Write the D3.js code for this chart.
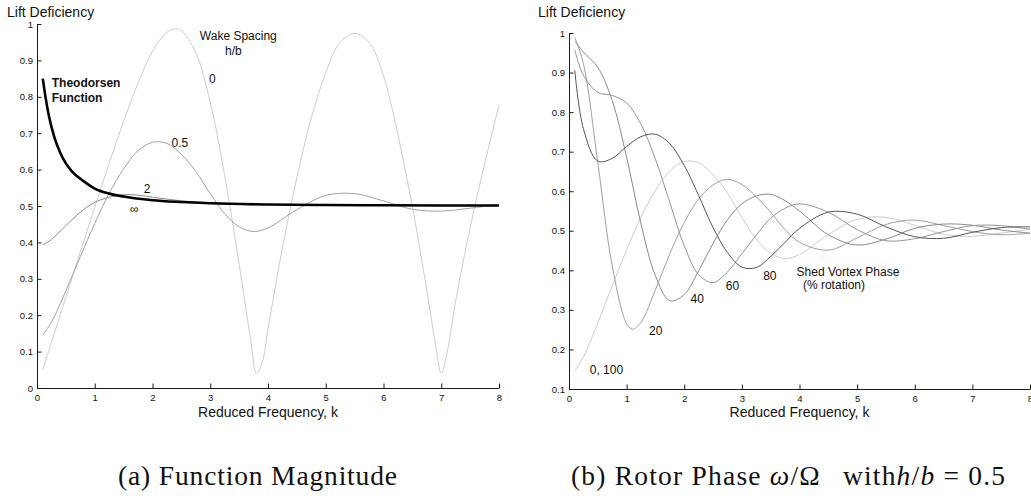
<!DOCTYPE html>
<html>
<head>
<meta charset="utf-8">
<script src="https://cdn.jsdelivr.net/npm/d3@7"></script>
<style>
  body { margin: 0; background: #fff; }
  svg { display: block; }
  .axis path, .axis line { stroke: #1a1a1a; stroke-width: 1; }
  .axis text { font-family: "Liberation Sans", Arial, sans-serif; font-size: 9.5px; fill: #111; }
  .lbl { font-family: "Liberation Sans", Arial, sans-serif; fill: #111; }
  .cap { font-family: "Liberation Serif", "Times New Roman", serif; font-size: 27.5px; fill: #111; white-space: pre; }
  .curve { fill: none; }
</style>
</head>
<body>
<div id="chart"></div>
<script>
// shared reduced-frequency grid for the smooth curves
var kGrid = [0.1, 0.25, 0.5, 0.75, 1, 1.25, 1.5, 1.75, 2, 2.25, 2.5, 2.75, 3, 3.25, 3.5, 3.75, 4, 4.5, 5, 5.5, 6, 6.5, 7, 7.5, 8];

// (a) wake spacing h/b
var wake0K = [0.1, 0.25, 0.5, 0.75, 1, 1.25, 1.5, 1.75, 2, 2.25, 2.4, 2.5, 2.75, 3, 3.25, 3.5, 3.7, 3.8, 3.9, 4, 4.25, 4.5, 4.75, 5, 5.25, 5.5, 5.75, 6, 6.25, 6.5, 6.75, 6.9, 7, 7.1, 7.25, 7.5, 7.75, 8];
var wake0 = [0.05, 0.125, 0.25, 0.374, 0.497, 0.617, 0.733, 0.838, 0.925, 0.977, 0.987, 0.982, 0.921, 0.785, 0.583, 0.34, 0.132, 0.04, 0.07, 0.163, 0.385, 0.578, 0.742, 0.866, 0.95, 0.974, 0.95, 0.858, 0.695, 0.498, 0.268, 0.12, 0.04, 0.097, 0.24, 0.44, 0.615, 0.778];
var wake05 = [0.146, 0.181, 0.267, 0.361, 0.452, 0.535, 0.602, 0.652, 0.675, 0.672, 0.642, 0.595, 0.534, 0.479, 0.443, 0.43, 0.44, 0.49, 0.529, 0.534, 0.514, 0.491, 0.486, 0.494, 0.504];
var wake2 = [0.393, 0.408, 0.446, 0.483, 0.51, 0.524, 0.531, 0.53, 0.524, 0.519, 0.514, 0.511, 0.509, 0.507, 0.506, 0.505, 0.504, 0.503, 0.5027, 0.5023, 0.502, 0.5018, 0.5016, 0.5014, 0.5012];
var theoK = [0.1, 0.15, 0.2, 0.3, 0.4, 0.5, 0.6, 0.8, 1, 1.25, 1.5, 2, 2.5, 3, 4, 5, 6, 7, 8];
var theodorsen = [0.85, 0.797, 0.752, 0.689, 0.647, 0.617, 0.596, 0.569, 0.548, 0.534, 0.526, 0.516, 0.511, 0.5075, 0.504, 0.5026, 0.502, 0.5015, 0.5012];

// (b) shed vortex phase, h/b = 0.5
var phase0 = [0.146, 0.181, 0.267, 0.361, 0.452, 0.535, 0.602, 0.652, 0.675, 0.672, 0.642, 0.595, 0.534, 0.479, 0.443, 0.43, 0.44, 0.49, 0.529, 0.534, 0.514, 0.491, 0.486, 0.494, 0.504];
var phase20K = [0.1, 0.25, 0.5, 0.75, 1, 1.1, 1.25, 1.5, 1.75, 2, 2.25, 2.5, 2.75, 3, 3.25, 3.5, 3.75, 4, 4.5, 5, 5.5, 6, 6.5, 7, 7.5, 8];
var phase20 = [0.989, 0.923, 0.672, 0.411, 0.265, 0.251, 0.269, 0.351, 0.442, 0.521, 0.58, 0.616, 0.63, 0.617, 0.586, 0.547, 0.503, 0.471, 0.451, 0.482, 0.516, 0.527, 0.513, 0.498, 0.49, 0.494];
var phase40 = [0.979, 0.952, 0.913, 0.829, 0.686, 0.517, 0.386, 0.323, 0.339, 0.399, 0.468, 0.528, 0.568, 0.588, 0.592, 0.576, 0.55, 0.49, 0.464, 0.479, 0.506, 0.517, 0.514, 0.502, 0.494];
var phase60 = [0.958, 0.893, 0.85, 0.842, 0.823, 0.769, 0.681, 0.571, 0.462, 0.389, 0.369, 0.396, 0.442, 0.489, 0.532, 0.557, 0.568, 0.547, 0.503, 0.475, 0.48, 0.498, 0.513, 0.513, 0.504];
var phase80 = [0.906, 0.758, 0.676, 0.683, 0.713, 0.738, 0.744, 0.72, 0.665, 0.589, 0.508, 0.445, 0.408, 0.407, 0.435, 0.471, 0.506, 0.547, 0.542, 0.51, 0.485, 0.481, 0.496, 0.508, 0.51];

// ticks
var xTicks = [0, 1, 2, 3, 4, 5, 6, 7, 8];
var xTickLabels = ["0", "1", "2", "3", "4", "5", "6", "7", "8"];
var yTicksA = [0, 0.1, 0.2, 0.3, 0.4, 0.5, 0.6, 0.7, 0.8, 0.9, 1];
var yTickLabelsA = ["0", "0.1", "0.2", "0.3", "0.4", "0.5", "0.6", "0.7", "0.8", "0.9", "1"];
var yTicksB = [0.1, 0.2, 0.3, 0.4, 0.5, 0.6, 0.7, 0.8, 0.9, 1];
var yTickLabelsB = ["0.1", "0.2", "0.3", "0.4", "0.5", "0.6", "0.7", "0.8", "0.9", "1"];

var svg = d3.select("#chart")
  .append("svg")
  .attr("width", 1031)
  .attr("height", 500);

function drawAxes(x, y, yTicks, yLabels, x0, y0) {
  svg.append("g")
    .attr("class", "axis")
    .attr("transform", `translate(0, ${y0})`)
    .call(d3.axisBottom(x).tickValues(xTicks)
      .tickFormat((d, i) => xTickLabels[i])
      .tickSizeInner(-4.5).tickSizeOuter(0).tickPadding(6));

  svg.append("g")
    .attr("class", "axis")
    .attr("transform", `translate(${x0}, 0)`)
    .call(d3.axisLeft(y).tickValues(yTicks)
      .tickFormat((d, i) => yLabels[i])
      .tickSizeInner(-4.5).tickSizeOuter(0).tickPadding(4));
}

function curve(x, y, ks, vals, color, width, interp) {
  var line = d3.line()
    .x(d => x(d[0]))
    .y(d => y(d[1]))
    .curve(interp || d3.curveCatmullRom.alpha(0.5));
  svg.append("path")
    .datum(d3.zip(ks, vals))
    .attr("class", "curve")
    .attr("stroke", color)
    .attr("stroke-width", width)
    .attr("d", line);
}

function label(xp, yp, txt, size, weight, anchor) {
  svg.append("text")
    .attr("class", "lbl")
    .attr("x", xp)
    .attr("y", yp)
    .attr("font-size", size)
    .attr("font-weight", weight || "normal")
    .attr("text-anchor", anchor || "start")
    .text(txt);
}

// ==============================
// (a) Function Magnitude
// ==============================
var xA = d3.scaleLinear().domain([0, 8]).range([37, 499]);
var yA = d3.scaleLinear().domain([0, 1]).range([388, 24]);

drawAxes(xA, yA, yTicksA, yTickLabelsA, 37, 388);

curve(xA, yA, wake0K, wake0, "#cdcdcd", 1);
curve(xA, yA, kGrid, wake05, "#a2a2a2", 1);
curve(xA, yA, kGrid, wake2, "#8a8a8a", 1);
curve(xA, yA, theoK, theodorsen, "#000", 2.6, d3.curveMonotoneX);

label(7, 17, "Lift Deficiency", "14px");
label(xA(2.82), yA(0.956), "Wake Spacing", "12px");
label(xA(3.4), yA(0.915), "h/b", "12px", "normal", "middle");
label(xA(2.98), yA(0.838), "0", "12px");
label(xA(2.33), yA(0.663), "0.5", "12px");
label(xA(1.85), yA(0.537), "2", "12px");
label(xA(1.61), yA(0.481), "\u221e", "12px");
label(xA(0.255), yA(0.827), "Theodorsen", "12px", "bold");
label(xA(0.255), yA(0.787), "Function", "12px", "bold");
label(xA(4), 416.5, "Reduced Frequency, k", "14px", "normal", "middle");

// ==============================
// (b) Rotor Phase
// ==============================
var xB = d3.scaleLinear().domain([0, 8]).range([569, 1030]);
var yB = d3.scaleLinear().domain([0.1, 1]).range([389, 33]);

drawAxes(xB, yB, yTicksB, yTickLabelsB, 569, 389);

curve(xB, yB, kGrid, phase0, "#cdcdcd", 1);
curve(xB, yB, phase20K, phase20, "#a0a0a0", 1);
curve(xB, yB, kGrid, phase40, "#8a8a8a", 1);
curve(xB, yB, kGrid, phase60, "#959595", 1);
curve(xB, yB, kGrid, phase80, "#555", 1);

label(538, 17, "Lift Deficiency", "14px");
label(xB(0.36), yB(0.1375), "0, 100", "12px");
label(xB(1.39), yB(0.236), "20", "12px");
label(xB(2.11), yB(0.318), "40", "12px");
label(xB(2.72), yB(0.35), "60", "12px");
label(xB(3.37), yB(0.375), "80", "12px");
label(xB(3.95), yB(0.386), "Shed Vortex Phase", "12px");
label(xB(4.06), yB(0.352), "(% rotation)", "12px");
label(xB(4), 416.5, "Reduced Frequency, k", "14px", "normal", "middle");

// captions
svg.append("text").attr("class", "cap")
  .attr("x", 118).attr("y", 484.5)
  .attr("textLength", 279).attr("lengthAdjust", "spacing")
  .text("(a) Function Magnitude");

var capB = svg.append("text").attr("class", "cap")
  .attr("x", 571).attr("y", 484.5)
  .attr("textLength", 434).attr("lengthAdjust", "spacing");
capB.append("tspan").text("(b) Rotor Phase ");
capB.append("tspan").attr("font-style", "italic").text("\u03c9");
capB.append("tspan").text("/\u03a9");
capB.append("tspan").attr("dx", 22).text("with");
capB.append("tspan").attr("font-style", "italic").text("h");
capB.append("tspan").text("/");
capB.append("tspan").attr("font-style", "italic").text("b");
capB.append("tspan").text(" = 0.5");
</script>
</body>
</html>
